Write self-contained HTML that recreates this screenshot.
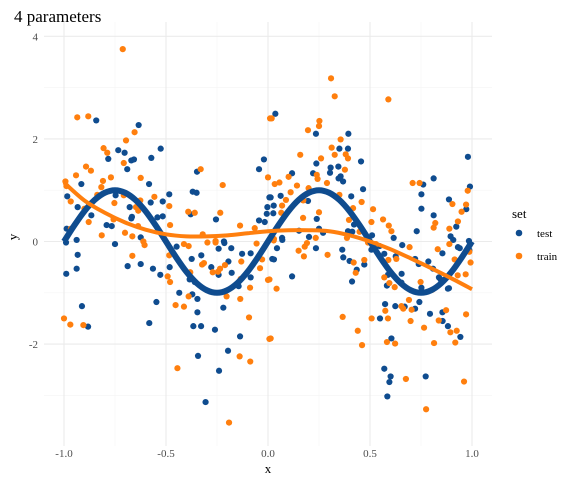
<!DOCTYPE html>
<html><head><meta charset="utf-8"><style>
body{margin:0;background:#fff}
svg text{font-family:"Liberation Serif",serif}
</style></head><body>
<svg id="chart" width="576" height="480" xmlns="http://www.w3.org/2000/svg">
<text x="14" y="22" font-size="17" fill="#000">4 parameters</text>
<g id="grid"></g>
<g id="pts"></g>
<g id="lines"></g>
<g id="axes"></g>
<text x="268" y="473" font-size="13" text-anchor="middle">x</text>
<text transform="translate(17,237) rotate(-90)" font-size="13" text-anchor="middle">y</text>
<g>
<text x="512" y="218" font-size="13">set</text>
<circle cx="519" cy="233" r="3.3" fill="#0F4C8F"/>
<text x="537" y="237" font-size="11">test</text>
<circle cx="519" cy="256" r="3.3" fill="#FF7F0E"/>
<text x="537" y="260" font-size="11">train</text>
</g>
</svg>
<script>
const xTicks=[-1,-0.5,0,0.5,1];
const xTickLabels=["-1.0","-0.5","0.0","0.5","1.0"];
const yTicks=[-2,0,2,4];
const yTickLabels=["-2","0","2","4"];
const xMinor=[-0.75,-0.25,0.25,0.75];
const yMinor=[-3,-1,1,3];
const testX=[-0.842,-0.634,-0.734,-0.703,-0.783,-0.526,-0.572,-0.670,-0.657,-0.690,-0.915,-0.583,-0.348,-0.369,-0.350,-0.484,-0.984,-0.747,-0.575,-0.516,-0.933,-0.678,-0.866,-0.667,-0.670,-0.516,-0.542,-0.791,-0.766,-0.987,-0.624,-0.379,-0.255,-0.044,-0.016,-0.006,-0.003,-0.044,-0.020,0.007,-0.216,
-0.990,-0.938,-0.933,-0.989,-0.938,-0.750,-0.688,-0.624,-0.564,-0.528,-0.912,-0.882,-0.547,-0.582,-0.448,-0.482,-0.435,-0.374,-0.327,-0.214,-0.242,-0.180,-0.194,-0.278,-0.242,-0.178,-0.127,-0.085,-0.085,-0.144,-0.384,-0.359,-0.371,-0.346,-0.346,-0.366,-0.328,-0.260,-0.219,-0.137,-0.196,-0.343,-0.240,-0.306,
0.036,0.235,0.394,0.350,0.392,0.456,0.237,0.307,0.345,0.304,0.221,0.356,0.346,0.368,0.118,0.013,0.062,0.196,0.466,0.408,0.028,0.026,0.239,0.422,0.392,0.413,0.510,0.616,0.250,0.270,0.152,0.201,0.069,0.761,0.812,0.752,0.752,0.729,0.887,0.980,0.990,0.972,0.812,0.923,0.895,0.908,0.985,
0.044,0.021,0.029,0.118,0.070,0.235,0.364,0.369,0.400,0.435,0.472,0.412,0.549,0.574,0.624,0.670,0.721,0.742,0.605,0.570,0.601,0.595,0.585,0.773,0.794,0.855,0.856,0.882,0.943,0.887,0.882,0.987,0.931,0.940,0.855,0.809,0.786,0.838,0.846,0.752,0.721,0.739,0.658,0.626,0.655,0.654,0.583,0.588,0.570,0.547,0.507];
const testY=[2.36,2.27,1.78,1.73,1.61,1.81,1.63,1.58,1.60,1.41,1.12,1.12,1.36,0.97,0.95,0.92,0.88,0.90,0.76,0.78,0.67,0.67,0.51,0.48,0.45,0.49,0.47,0.32,0.30,0.25,0.08,0.53,0.43,0.41,0.38,0.54,0.67,1.41,1.60,0.86,0.0,
-0.02,0.03,-0.26,-0.63,-0.53,-0.05,-0.48,-0.44,-0.53,-0.65,-1.26,-1.66,-1.18,-1.59,-0.10,-0.50,-1.00,-0.34,-0.27,-0.03,-0.14,-0.13,-0.39,-0.50,-0.65,-0.61,-0.24,-0.23,-0.70,-0.87,-0.74,-0.79,-1.03,-1.12,-1.38,-1.65,-1.65,-1.72,-1.29,-1.85,-2.13,-2.23,-2.52,-3.13,
2.49,2.10,2.10,1.81,1.81,1.56,1.52,1.44,1.46,1.34,1.33,1.27,1.23,1.17,1.33,0.86,0.89,0.79,1.02,0.88,0.70,0.55,0.44,0.33,0.20,0.19,0.12,0.07,0.25,0.17,0.21,0.09,0.07,1.11,1.23,0.92,0.64,0.20,0.82,1.65,1.07,0.63,0.51,0.29,0.10,0.03,0.01,
-0.13,-0.34,-0.35,-0.68,0.03,-0.13,-0.16,-0.31,-0.38,-0.55,-0.45,-0.78,-1.50,-1.22,-1.26,-1.27,-1.31,-1.18,-1.89,-2.48,-2.63,-2.74,-3.02,-2.63,-1.41,-1.38,-1.55,-1.65,-1.86,-0.91,-0.92,-0.17,-0.11,-0.13,-0.23,-0.53,-0.39,-0.70,-0.74,-0.90,-0.34,-0.44,-0.07,-0.29,-0.63,-0.80,-0.86,-0.65,-0.24,-0.09,-0.16];
const trainX=[-0.712,-0.935,-0.881,-0.654,-0.696,-0.806,-0.788,-0.707,-0.892,-0.868,-0.941,-0.624,-0.770,-0.809,-0.817,-0.993,-0.988,-0.330,-0.222,-0.837,-0.707,-0.557,-0.626,-0.753,-0.967,-0.484,-0.636,-0.900,-0.647,-0.879,-0.757,-0.637,-0.480,-0.966,-0.815,-0.701,-0.665,-0.391,-0.359,-0.234,-0.137,-0.065,0.000,0.010,-0.257,-0.320,
-0.665,-0.605,-0.611,-1.000,-0.969,-0.905,-0.484,-0.492,-0.480,-0.412,-0.389,-0.297,-0.257,-0.323,-0.314,-0.271,-0.245,-0.235,-0.211,-0.131,-0.056,-0.029,-0.039,0.000,-0.134,-0.088,-0.381,-0.389,-0.453,-0.412,-0.203,-0.136,-0.093,-0.139,-0.087,-0.444,-0.191,0.007,
0.309,0.327,0.590,0.018,0.252,0.250,0.196,0.356,0.312,0.327,0.158,0.260,0.381,0.392,0.377,0.239,0.243,0.289,0.033,0.056,0.101,0.142,0.111,0.199,0.088,0.173,0.350,0.459,0.417,0.069,0.065,0.250,0.172,0.515,0.507,0.564,0.592,0.605,0.397,0.449,0.234,0.387,0.029,0.709,0.743,0.904,0.979,0.971,0.949,0.820,0.812,0.931,0.889,
0.007,0.042,0.028,0.150,0.176,0.180,0.191,0.292,0.420,0.430,0.472,0.366,0.440,0.461,0.013,0.508,0.588,0.575,0.654,0.663,0.691,0.704,0.699,0.583,0.623,0.676,0.775,0.961,0.765,0.814,0.837,0.873,0.894,0.925,0.918,0.971,0.930,0.969,0.993,0.987,0.889,0.832,0.915,0.806,0.748,0.694,0.629,0.621,0.595,0.570,0.590,0.529,0.490];
const trainY=[3.75,2.42,2.44,2.13,1.97,1.82,1.73,1.53,1.46,1.38,1.29,1.24,1.25,1.18,1.06,1.17,1.08,1.41,1.10,0.91,0.90,0.87,0.80,0.75,0.78,0.69,0.60,0.64,0.67,0.38,0.43,0.30,0.32,0.25,0.12,0.17,0.10,0.58,0.56,0.56,0.31,0.26,1.25,2.40,0.01,0.14,
-0.28,-0.07,0.00,-1.50,-1.62,-1.63,-0.27,-0.68,-0.79,-0.05,-0.09,-0.02,-0.02,-0.45,-0.42,-0.60,-0.59,-0.53,-0.46,-0.39,-0.04,-0.35,-0.52,-0.75,-0.73,-0.90,-0.60,-1.07,-1.24,-1.27,-1.07,-1.12,-1.48,-2.24,-2.34,-2.47,-3.53,-1.90,
3.18,2.83,2.77,2.40,2.35,2.25,2.17,1.99,1.83,1.69,1.69,1.62,1.70,1.62,1.40,1.30,1.22,1.14,1.12,1.15,1.26,1.09,0.96,1.04,0.81,0.80,0.91,0.77,0.65,0.70,0.56,0.57,0.46,0.63,0.38,0.43,0.31,0.20,0.42,0.19,0.07,0.07,0.05,1.14,1.14,0.73,0.99,0.72,0.58,0.36,0.27,0.39,0.25,
-0.74,-0.92,0.02,-0.18,-0.29,-0.10,-0.03,-0.26,-0.41,-0.61,-0.36,-1.47,-1.74,-2.02,-1.89,-1.50,-1.50,-1.35,-1.26,-1.31,-1.14,-1.33,-1.55,-1.96,-1.99,-2.68,-3.27,-2.73,-1.68,-1.98,-1.54,-1.34,-1.77,-1.74,-1.97,-1.42,-0.66,-0.64,-0.41,-0.20,-0.05,-0.15,-0.35,-0.94,-0.79,-0.11,-0.34,-0.89,-0.81,-0.70,-0.36,-0.05,-0.02];
const fitTestX=[-1,-0.95,-0.9,-0.85,-0.8,-0.75,-0.7,-0.65,-0.6,-0.55,-0.5,-0.45,-0.4,-0.35,-0.3,-0.25,-0.2,-0.15,-0.1,-0.05,0,0.05,0.1,0.15,0.2,0.25,0.3,0.35,0.4,0.45,0.5,0.55,0.6,0.65,0.7,0.75,0.8,0.85,0.9,0.95,1];
const fitTestY=[0,0.31,0.59,0.81,0.95,1,0.95,0.81,0.59,0.31,0,-0.31,-0.59,-0.81,-0.95,-1,-0.95,-0.81,-0.59,-0.31,0,0.31,0.59,0.81,0.95,1,0.95,0.81,0.59,0.31,0,-0.31,-0.59,-0.81,-0.95,-1,-0.95,-0.81,-0.59,-0.31,0];
const fitTrainX=[-1,-0.9,-0.8,-0.7,-0.6,-0.5,-0.4,-0.3,-0.2,-0.1,0,0.1,0.2,0.3,0.4,0.5,0.6,0.7,0.8,0.9,1];
const fitTrainY=[1.15,0.8,0.56,0.37,0.23,0.14,0.1,0.1,0.12,0.16,0.2,0.22,0.22,0.2,0.12,0.0,-0.15,-0.33,-0.52,-0.72,-0.93];

const NS="http://www.w3.org/2000/svg";
const X0=44,X1=492,Y0=22,Y1=446;
const sx=v=>268+v*204;
const sy=v=>241.5-v*51.3;
function mk(tag,attrs,parent){const e=document.createElementNS(NS,tag);for(const k in attrs)e.setAttribute(k,attrs[k]);parent.appendChild(e);return e;}
const grid=document.getElementById('grid');
xMinor.forEach(v=>{const l=mk('line',{x1:sx(v),x2:sx(v),y1:Y0,y2:Y1,stroke:'#f4f4f4','stroke-width':0.6},grid);

});
yMinor.forEach(v=>{const l=mk('line',{x1:X0,x2:X1,y1:sy(v),y2:sy(v),stroke:'#f4f4f4','stroke-width':0.6},grid);

});
xTicks.forEach(v=>{const l=mk('line',{x1:sx(v),x2:sx(v),y1:Y0,y2:Y1,stroke:'#ebebeb','stroke-width':1.1},grid);

});
yTicks.forEach(v=>{const l=mk('line',{x1:X0,x2:X1,y1:sy(v),y2:sy(v),stroke:'#ebebeb','stroke-width':1.1},grid);

});
const axes=document.getElementById('axes');
xTicks.forEach((v,i)=>{const t=mk('text',{x:sx(v),y:457,'font-size':11,'text-anchor':'middle',fill:'#4d4d4d'},axes);t.textContent=xTickLabels[i];

});
yTicks.forEach((v,i)=>{const t=mk('text',{x:38,y:sy(v)+4,'font-size':11,'text-anchor':'end',fill:'#4d4d4d'},axes);t.textContent=yTickLabels[i];

});
const pts=document.getElementById('pts');
testX.forEach((v,i)=>{const c=mk('circle',{cx:sx(v),cy:sy(testY[i]),r:3.1,fill:'#0F4C8F'},pts);

});
trainX.forEach((v,i)=>{const c=mk('circle',{cx:sx(v),cy:sy(trainY[i]),r:3.1,fill:'#FF7F0E'},pts);

});
function smooth(xs,ys){const p=xs.map((v,i)=>[sx(v),sy(ys[i])]);let d='M'+p[0][0]+','+p[0][1];
for(let i=0;i<p.length-1;i++){const a=p[Math.max(0,i-1)],b=p[i],c=p[i+1],e=p[Math.min(p.length-1,i+2)];
d+=' C'+(b[0]+(c[0]-a[0])/6)+','+(b[1]+(c[1]-a[1])/6)+' '+(c[0]-(e[0]-b[0])/6)+','+(c[1]-(e[1]-b[1])/6)+' '+c[0]+','+c[1];}return d;}
const lines=document.getElementById('lines');
const lt=mk('path',{d:smooth(fitTestX,fitTestY),fill:'none',stroke:'#0F4C8F','stroke-width':6,'stroke-linecap':'butt'},lines);


const lr=mk('path',{d:smooth(fitTrainX,fitTrainY),fill:'none',stroke:'#FF7F0E','stroke-width':4},lines);


</script>
</body></html>
